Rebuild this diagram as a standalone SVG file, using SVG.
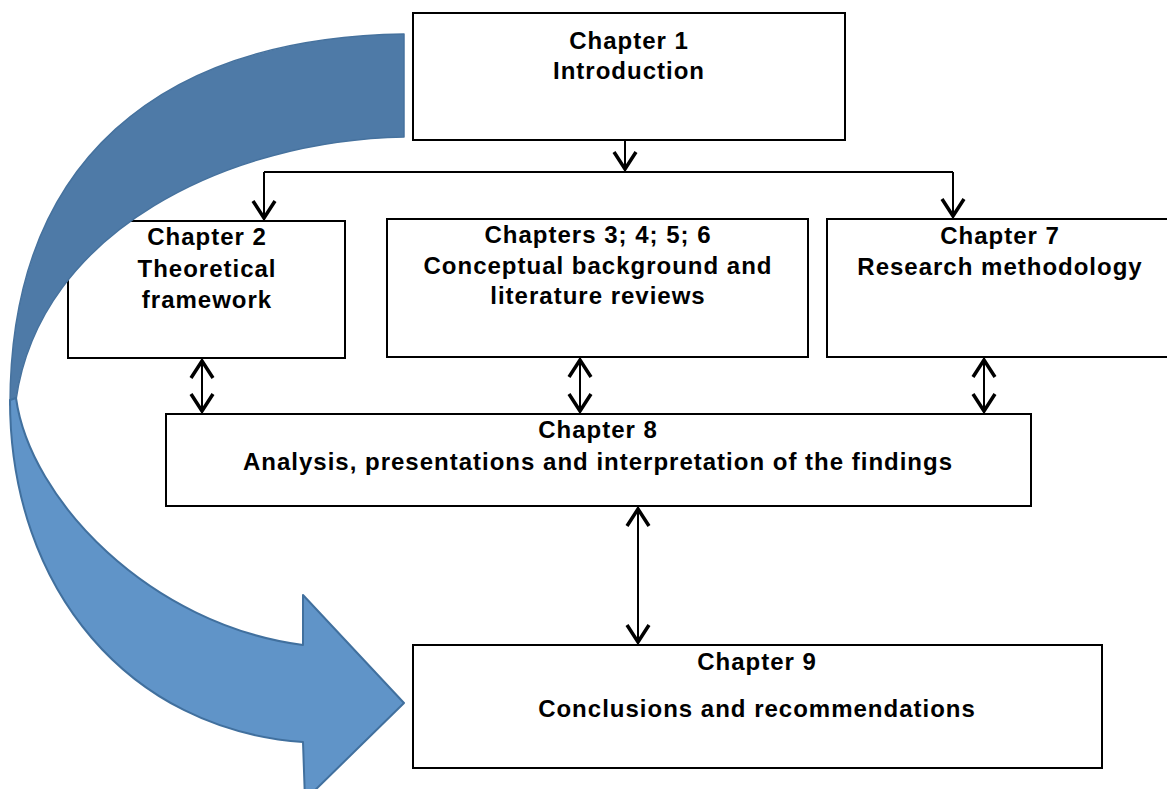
<svg xmlns="http://www.w3.org/2000/svg" width="1167" height="789" viewBox="0 0 1167 789">
  <style>
    .box { fill: #ffffff; stroke: #000000; stroke-width: 2; }
    .label { font-family: "Liberation Sans", Arial, sans-serif; font-weight: bold; font-size: 24px; letter-spacing: 1px; fill: #000000; text-anchor: middle; }
    .link { fill: none; stroke: #000000; stroke-width: 2; }
    .one { marker-end: url(#head); }
    .two { marker-start: url(#head); marker-end: url(#head); }
  </style>
  <defs>
    <marker id="head" markerUnits="userSpaceOnUse" markerWidth="30" markerHeight="30" viewBox="-25 -15 30 30" refX="0" refY="0" orient="auto-start-reverse" overflow="visible">
      <path d="M-20,-11 L-3,0 L-20,11" fill="none" stroke="#000000" stroke-width="3.5"/>
    </marker>
  </defs>

  <rect width="1167" height="789" fill="#ffffff"/>

  <!-- connectors -->
  <g id="connectors">
    <path class="link one" d="M625,140 V172"/>
    <path class="link" d="M264,172 H953"/>
    <path class="link one" d="M264,172 V221"/>
    <path class="link one" d="M953,172 V219"/>
    <path class="link two" d="M202,358 V414"/>
    <path class="link two" d="M580,357 V414"/>
    <path class="link two" d="M984,357 V414"/>
    <path class="link two" d="M638,506 V645"/>
  </g>

  <!-- chapter boxes -->
  <g id="ch1">
    <rect class="box" x="413" y="13" width="432" height="127"/>
    <text class="label" x="629" y="49">Chapter 1</text>
    <text class="label" x="629" y="79">Introduction</text>
  </g>
  <g id="ch2">
    <rect class="box" x="68" y="221" width="277" height="137"/>
    <text class="label" x="207" y="245">Chapter 2</text>
    <text class="label" x="207" y="277">Theoretical</text>
    <text class="label" x="207" y="308">framework</text>
  </g>
  <g id="ch3to6">
    <rect class="box" x="387" y="219" width="421" height="138"/>
    <text class="label" x="598" y="243">Chapters 3; 4; 5; 6</text>
    <text class="label" x="598" y="274">Conceptual background and</text>
    <text class="label" x="598" y="304">literature reviews</text>
  </g>
  <g id="ch7">
    <rect class="box" x="827" y="219" width="346" height="138"/>
    <text class="label" x="1000" y="244">Chapter 7</text>
    <text class="label" x="1000" y="275">Research methodology</text>
  </g>
  <g id="ch8">
    <rect class="box" x="166" y="414" width="865" height="92"/>
    <text class="label" x="598" y="438">Chapter 8</text>
    <text class="label" x="598" y="470">Analysis, presentations and interpretation of the findings</text>
  </g>
  <g id="ch9">
    <rect class="box" x="413" y="645" width="689" height="123"/>
    <text class="label" x="757" y="670">Chapter 9</text>
    <text class="label" x="757" y="717">Conclusions and recommendations</text>
  </g>

  <!-- large curved arrow from Chapter 1 round to Chapter 9 -->
  <g id="flow-arrow">
    <path d="M404,34 C160,38 10,160 10,405 L16,400 C40,230 230,140 404,137 Z" fill="#4E7AA7" stroke="#46729E" stroke-width="1.5" stroke-linejoin="round"/>
    <path d="M10,400 C10,590 130,730 303,742 L305,800 L404,703 L303,595 L303,645 C150,625 30,500 16,398 Z" fill="#6094C8" stroke="#41709E" stroke-width="2" stroke-linejoin="round"/>
  </g>
</svg>
